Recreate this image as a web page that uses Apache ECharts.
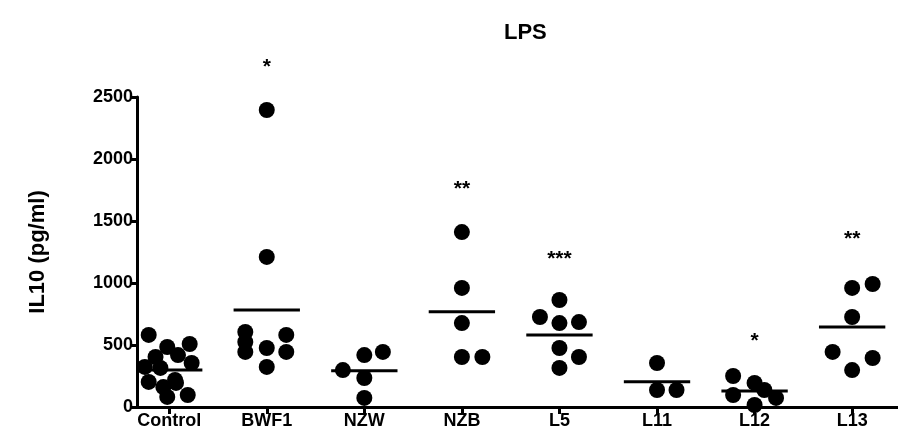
<!DOCTYPE html>
<html>
<head>
<meta charset="utf-8">
<script src="https://cdn.jsdelivr.net/npm/echarts@6/dist/echarts.min.js"></script>
<style>
  html, body { margin: 0; padding: 0; background: #fff; }
  #chart { width: 898px; height: 443px; }
</style>
</head>
<body>
<div id="chart"></div>
<script>
const categories = ['Control', 'BWF1', 'NZW', 'NZB', 'L5', 'L11', 'L12', 'L13'];
const yTicks = [0, 500, 1000, 1500, 2000, 2500];

// IL10 (pg/ml) per mouse, with the horizontal scatter of each dot (in category widths)
const controlValues = [581, 508, 484, 419, 403, 323, 315, 355, 218, 202, 161, 194, 97, 81];
const controlJitter = [-0.21, 0.21, -0.02, 0.09, -0.14, -0.25, -0.09, 0.23, 0.06, -0.21, -0.06, 0.07, 0.19, -0.02];
const bwf1Values = [2395, 1210, 605, 524, 444, 476, 323, 581, 444];
const bwf1Jitter = [0, 0, -0.22, -0.22, -0.22, 0, 0, 0.2, 0.2];
const nzwValues = [298, 419, 444, 234, 73];
const nzwJitter = [-0.22, 0, 0.19, 0, 0];
const nzbValues = [1411, 960, 677, 403, 403];
const nzbJitter = [0, 0, 0, 0, 0.21];
const l5Values = [863, 726, 677, 685, 476, 403, 315];
const l5Jitter = [0, -0.2, 0, 0.2, 0, 0.2, 0];
const l11Values = [355, 137, 137];
const l11Jitter = [0, 0, 0.2];
const l12Values = [250, 97, 194, 137, 73, 16];
const l12Jitter = [-0.22, -0.22, 0, 0.1, 0.22, 0];
const l13Values = [960, 992, 726, 444, 298, 395];
const l13Jitter = [0, 0.21, 0, -0.2, 0, 0.21];

// group means (horizontal bars) and significance marks
const means = [298, 782, 293, 769, 581, 204, 129, 645];
const stars = ['', '*', '', '**', '***', '', '*', '**'];
const starLevels = [null, 2774, null, 1790, 1226, null, 565, 1387];

document.addEventListener('DOMContentLoaded', function() {
  const chart = echarts.init(document.getElementById('chart'));
  const firstPos = 0.33;
  const halfBar = 0.34;
  const groupValues = [controlValues, bwf1Values, nzwValues, nzbValues, l5Values, l11Values, l12Values, l13Values];
  const groupJitter = [controlJitter, bwf1Jitter, nzwJitter, nzbJitter, l5Jitter, l11Jitter, l12Jitter, l13Jitter];
  const catPos = categories.map((c, i) => i + firstPos);

  const dots = [];
  groupValues.forEach((vals, i) => {
    vals.forEach((v, j) => dots.push([catPos[i] + groupJitter[i][j], v]));
  });
  const meanData = means.map((m, i) => [catPos[i], m]);
  const starData = [];
  stars.forEach((s, i) => {
    if (s) starData.push({ name: s, value: [catPos[i], starLevels[i]] });
  });

  const font = 'Liberation Sans, Arial, sans-serif';
  const option = {
    animation: false,
    title: {
      text: 'LPS',
      left: 499,
      top: 17,
      textStyle: { fontFamily: font, fontWeight: 'bold', fontSize: 22, color: '#000' }
    },
    grid: { left: 137, right: 0, top: 97, bottom: 36 },
    xAxis: {
      type: 'value',
      min: 0,
      max: 7.8,
      axisLine: { show: true, onZero: false, lineStyle: { color: '#000', width: 3 } },
      axisTick: { show: true, length: 7, customValues: catPos, lineStyle: { color: '#000', width: 3 } },
      axisLabel: {
        customValues: catPos,
        formatter: v => categories[Math.round(v - firstPos)],
        color: '#000', fontFamily: font, fontWeight: 'bold', fontSize: 18, margin: 5
      },
      splitLine: { show: false }
    },
    yAxis: {
      type: 'value',
      min: yTicks[0],
      max: yTicks[yTicks.length - 1],
      interval: 500,
      name: 'IL10 (pg/ml)',
      nameLocation: 'middle',
      nameGap: 88,
      nameRotate: 90,
      nameTextStyle: { fontFamily: font, fontWeight: 'bold', fontSize: 22, color: '#000' },
      axisLine: { show: true, lineStyle: { color: '#000', width: 3 } },
      axisTick: { show: true, length: 7, lineStyle: { color: '#000', width: 3 } },
      axisLabel: {
        formatter: v => String(v),
        color: '#000', fontFamily: font, fontWeight: 'bold', fontSize: 18, margin: 4
      },
      splitLine: { show: false }
    },
    series: [
      {
        type: 'scatter',
        data: dots,
        symbol: 'circle',
        symbolSize: 16,
        itemStyle: { color: '#000', opacity: 1 },
        z: 3
      },
      {
        type: 'custom',
        data: meanData,
        renderItem: function(params, api) {
          const a = api.coord([api.value(0) - halfBar, api.value(1)]);
          const b = api.coord([api.value(0) + halfBar, api.value(1)]);
          return {
            type: 'line',
            shape: { x1: a[0], y1: a[1], x2: b[0], y2: b[1] },
            style: { stroke: '#000', lineWidth: 3 }
          };
        },
        z: 4
      },
      {
        type: 'scatter',
        data: starData,
        symbolSize: 0,
        clip: false,
        itemStyle: { color: '#000', opacity: 1 },
        label: {
          show: true,
          position: 'inside',
          formatter: '{b}',
          color: '#000',
          fontFamily: font,
          fontWeight: 'bold',
          fontSize: 21,
          offset: [0, 4]
        }
      }
    ]
  };
  chart.setOption(option);
});
</script>
</body>
</html>
